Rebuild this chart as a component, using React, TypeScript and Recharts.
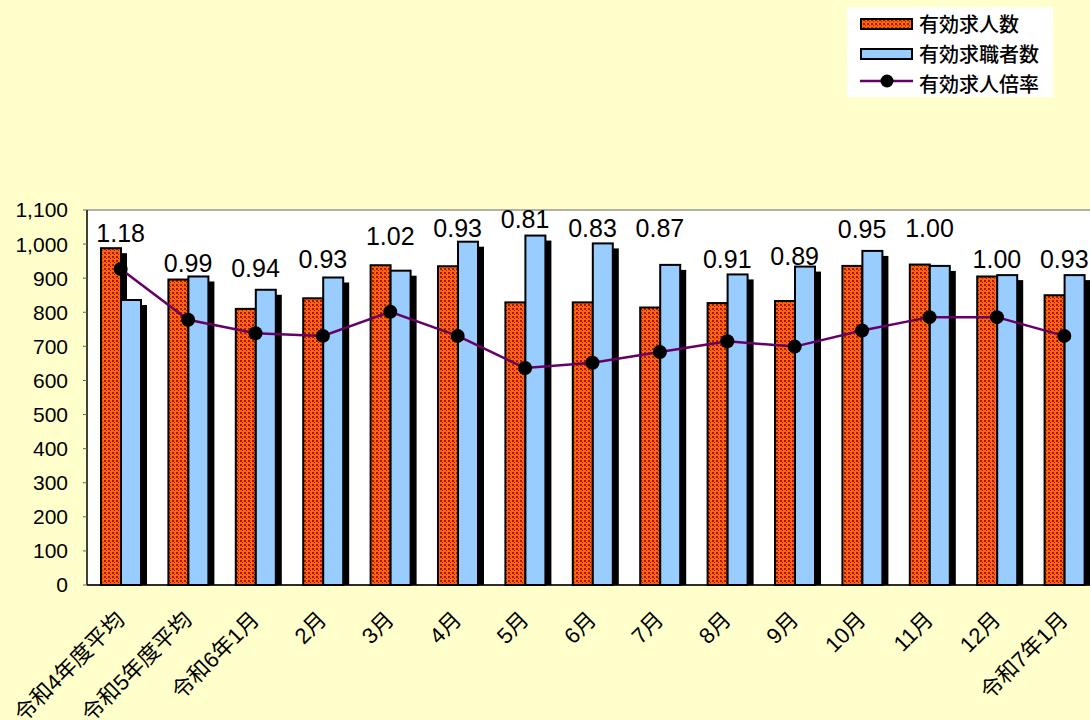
import { ComposedChart, Bar, Line, XAxis, YAxis, CartesianGrid } from 'recharts';

const categories = [
  '令和4年度平均', '令和5年度平均', '令和6年1月', '2月', '3月', '4月', '5月', '6月',
  '7月', '8月', '9月', '10月', '11月', '12月', '令和7年1月',
];
// 有効求人数
const openings = [988, 896, 810, 841, 938, 935, 829, 829, 814, 827, 833, 936, 940, 905, 850];
// 有効求職者数
const seekers = [836, 905, 866, 902, 922, 1007, 1025, 1002, 939, 911, 934, 980, 936, 909, 909];
// 有効求人倍率
const ratios = [1.18, 0.99, 0.94, 0.93, 1.02, 0.93, 0.81, 0.83, 0.87, 0.91, 0.89, 0.95, 1.0, 1.0, 0.93];
// where each ratio label sits, in left-axis units (labels were placed by hand in the original)
const ratioLabelAt = [1006, 919, 904, 929, 997, 1020, 1047, 1021, 1021, 929, 938, 1018, 1021, 930, 930];
const yTicks = [0, 100, 200, 300, 400, 500, 600, 700, 800, 900, 1000, 1100];

const FONT = "'Liberation Sans', 'Noto Sans CJK JP', sans-serif";
const ORANGE = 'url(#orangeCheck)';
const BLUE = '#99CCFF';
const PURPLE = '#660066';

const data = categories.map((name, i) => ({
  name,
  openings: openings[i],
  seekers: seekers[i],
  ratio: ratios[i],
  labelAt: ratioLabelAt[i],
}));

function ShadowBar(props: any) {
  const { x, y, width, height, fill } = props;
  if (!height || height <= 0) return null;
  const dx = 6;
  const dy = 5;
  return (
    <g>
      <rect x={x + dx} y={y + dy} width={width} height={Math.max(height - dy, 0)} fill="#000" />
      <rect x={x} y={y} width={width} height={height} fill={fill} stroke="#000" strokeWidth={2} />
    </g>
  );
}

function CategoryTick(props: any) {
  const { x, payload } = props;
  return (
    <g transform={`translate(${x + 5},${621}) rotate(-45)`}>
      <text x={0} y={0} textAnchor="end" fontSize={22} fontFamily={FONT} fill="#000">
        {payload.value}
      </text>
    </g>
  );
}

function RatioLabel(props: any) {
  const { x, y, index } = props;
  return (
    <text x={x} y={y} textAnchor="middle" fontSize={25} fontFamily={FONT} fill="#000">
      {ratios[index].toFixed(2)}
    </text>
  );
}

function PatternDefs() {
  return (
    <svg width={0} height={0} style={{ position: 'absolute' }}>
      <defs>
        <pattern id="orangeCheck" width={4} height={4} patternUnits="userSpaceOnUse">
          <rect width={4} height={4} fill="#FF6600" />
          <rect x={0} y={0} width={2} height={2} fill="#A31A00" />
          <rect x={2} y={2} width={1} height={1} fill="#A31A00" />
        </pattern>
      </defs>
    </svg>
  );
}

function ChartLegend() {
  const rows = ['有効求人数', '有効求職者数', '有効求人倍率'];
  return (
    <svg width={206} height={90} style={{ position: 'absolute', left: 847, top: 7 }}>
      <rect width={206} height={90} fill="#fff" />
      <rect x={14} y={12} width={51} height={10} fill={ORANGE} stroke="#000" strokeWidth={2} />
      <rect x={14} y={42} width={51} height={10} fill={BLUE} stroke="#000" strokeWidth={2} />
      <line x1={13} y1={74} x2={66} y2={74} stroke={PURPLE} strokeWidth={2.5} />
      <circle cx={40} cy={74} r={6.5} fill="#000" />
      {rows.map((t, i) => (
        <text key={t} x={72} y={25 + i * 30} fontSize={20} fontFamily={FONT} fontWeight={500} fill="#000">
          {t}
        </text>
      ))}
    </svg>
  );
}

export default function App() {
  return (
    <div
      style={{
        position: 'fixed',
        left: 0,
        top: 0,
        width: 1090,
        height: 720,
        overflow: 'hidden',
        background: '#FFFFCC',
      }}
    >
      <PatternDefs />
      <ComposedChart
        width={1100}
        height={720}
        data={data}
        margin={{ top: 210, right: 2, bottom: 0, left: 0 }}
        barGap={0}
        barSize={20}
      >
        <CartesianGrid vertical={false} fill="#fff" stroke="#666" />
        <XAxis
          dataKey="name"
          interval={0}
          height={135}
          tick={<CategoryTick />}
          tickLine={false}
          axisLine={{ stroke: '#000', strokeWidth: 1.5 }}
        />
        <YAxis
          yAxisId="left"
          width={87}
          domain={[0, 1100]}
          ticks={yTicks}
          interval={0}
          tickFormatter={(v: number) => v.toLocaleString('en-US')}
          tick={{ fontSize: 21, fontFamily: FONT, fill: '#000' }}
          tickSize={4}
          tickMargin={15}
          tickLine={{ stroke: '#666' }}
          axisLine={{ stroke: '#000', strokeWidth: 1.5 }}
        />
        <YAxis yAxisId="ratio" orientation="right" domain={[0, 1.4]} hide />
        <Bar
          yAxisId="left"
          dataKey="openings"
          fill={ORANGE}
          shape={(p: any) => <ShadowBar {...p} fill={ORANGE} />}
          isAnimationActive={false}
        />
        <Bar
          yAxisId="left"
          dataKey="seekers"
          fill={BLUE}
          shape={(p: any) => <ShadowBar {...p} fill={BLUE} />}
          isAnimationActive={false}
        />
        <Line
          yAxisId="ratio"
          dataKey="ratio"
          stroke={PURPLE}
          strokeWidth={2.5}
          dot={{ r: 7, fill: '#000', stroke: '#000', strokeWidth: 0 }}
          activeDot={false}
          isAnimationActive={false}
        />
        <Line
          yAxisId="left"
          dataKey="labelAt"
          stroke="none"
          dot={false}
          activeDot={false}
          label={<RatioLabel />}
          isAnimationActive={false}
        />
      </ComposedChart>
      <ChartLegend />
    </div>
  );
}
